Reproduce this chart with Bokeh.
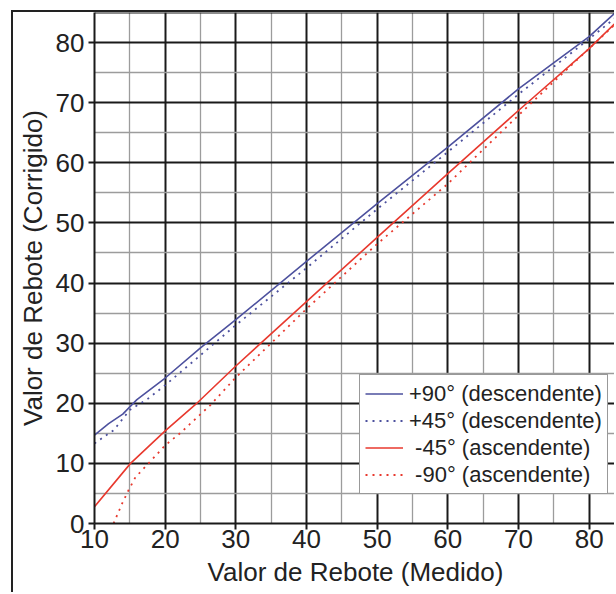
from bokeh.plotting import figure
from bokeh.models import Range1d, Span, Legend, LegendItem, FixedTicker
from bokeh.embed import file_html
from bokeh.resources import INLINE

# ---- data ----
x_p90 = [10, 12, 14, 16, 20, 25, 30, 40, 50, 60, 70, 80, 84]
y_p90 = [14.7, 16.6, 18.2, 20.6, 24.2, 29.2, 33.9, 43.6, 53.2, 62.6, 72.3, 81.0, 85.3]

x_p45 = [10, 11.3, 12.7, 15, 17.5, 20, 30, 40, 50, 60, 70, 80, 84]
y_p45 = [13.3, 14.4, 15.5, 18.9, 20.7, 23.0, 33.0, 42.5, 52.3, 61.8, 71.4, 80.6, 84.4]

x_m45 = [10, 15.1, 20, 24.3, 30, 40, 50, 60, 70, 80, 84]
y_m45 = [2.8, 10.0, 15.4, 19.8, 26.2, 36.9, 47.6, 58.2, 68.7, 79.0, 83.6]

x_m90 = [12.7, 13.9, 14.8, 15.8, 17.4, 20, 22.1, 26.4, 30, 40, 50, 60, 70, 75, 80, 84]
y_m90 = [0, 3.3, 5.5, 7.7, 9.7, 13.0, 15.0, 19.7, 24.3, 35.7, 46.5, 56.5, 67.9, 73.5, 79.0, 83.4]

labels = ["+90° (descendente)", "+45° (descendente)",
          "\u00a0-45° (ascendente)", "\u00a0-90° (ascendente)"]

x_ticks = [10, 20, 30, 40, 50, 60, 70, 80]
x_minor = [15, 25, 35, 45, 55, 65, 75, 85]
y_ticks = [0, 10, 20, 30, 40, 50, 60, 70, 80]
y_minor = [5, 15, 25, 35, 45, 55, 65, 75]

BLUE = "#4d519e"
RED = "#e8392e"
FONT = "Liberation Sans"
INK = "#222222"

p = figure(width=603, height=582,
           x_range=Range1d(10, 83.87), y_range=Range1d(0, 85),
           output_backend="svg", toolbar_location=None)
p.min_border = 0
p.min_border_left = 81
p.min_border_right = 0
p.min_border_top = 0
p.min_border_bottom = 71
p.outline_line_color = None
p.background_fill_color = "white"
p.border_fill_color = "white"
p.margin = (10, 0, 0, 11)
p.styles = {"border-left": "2px solid #222222", "border-top": "2px solid #222222"}

# grids
p.xaxis.ticker = FixedTicker(ticks=x_ticks, minor_ticks=x_minor)
p.yaxis.ticker = FixedTicker(ticks=y_ticks, minor_ticks=y_minor)
for g in (p.xgrid, p.ygrid):
    g.grid_line_color = "#1a1a1a"
    g.grid_line_width = 2
    g.minor_grid_line_color = "#9c9c9c"
    g.minor_grid_line_width = 1.3

top = Span(location=85, dimension="width", line_color="#1a1a1a", line_width=2)
p.add_layout(top)

# axes
for ax in (p.xaxis, p.yaxis):
    ax.axis_line_color = "#1a1a1a"
    ax.axis_line_width = 2
    ax.major_tick_line_color = "#1a1a1a"
    ax.major_tick_line_width = 2
    ax.major_tick_out = 6
    ax.major_tick_in = 0
    ax.minor_tick_line_color = None
    ax.major_label_text_font = FONT
    ax.major_label_text_font_size = "26px"
    ax.major_label_text_color = INK
    ax.axis_label_text_font = FONT
    ax.axis_label_text_font_size = "26px"
    ax.axis_label_text_font_style = "normal"
    ax.axis_label_text_color = INK

p.xaxis.axis_label = "Valor de Rebote (Medido)"
p.xaxis.major_label_standoff = 0
p.xaxis.axis_label_standoff = 6

p.yaxis.axis_label = "Valor de Rebote (Corrigido)"
p.yaxis.major_label_standoff = 4
p.yaxis.axis_label_standoff = 5

# lines
r1 = p.line(x_p90, y_p90, line_color=BLUE, line_width=1.6)
r2 = p.line(x_p45, y_p45, line_color=BLUE, line_width=1.8, line_dash="2 5")
r3 = p.line(x_m45, y_m45, line_color=RED, line_width=1.6)
r4 = p.line(x_m90, y_m90, line_color=RED, line_width=1.8, line_dash="2 5")

legend = Legend(items=[LegendItem(label=labels[0], renderers=[r1]),
                       LegendItem(label=labels[1], renderers=[r2]),
                       LegendItem(label=labels[2], renderers=[r3]),
                       LegendItem(label=labels[3], renderers=[r4])],
                location=(265, 29))
legend.border_line_color = "#333333"
legend.border_line_width = 1.5
legend.background_fill_color = "white"
legend.background_fill_alpha = 1.0
legend.padding = 5
legend.spacing = 0
legend.margin = 0
legend.label_standoff = 6
legend.glyph_width = 38
legend.glyph_height = 27
legend.label_height = 27
legend.label_text_font = FONT
legend.label_text_font_size = "22px"
legend.label_text_color = INK
p.add_layout(legend)

open("out.html", "w").write(file_html(p, INLINE))
